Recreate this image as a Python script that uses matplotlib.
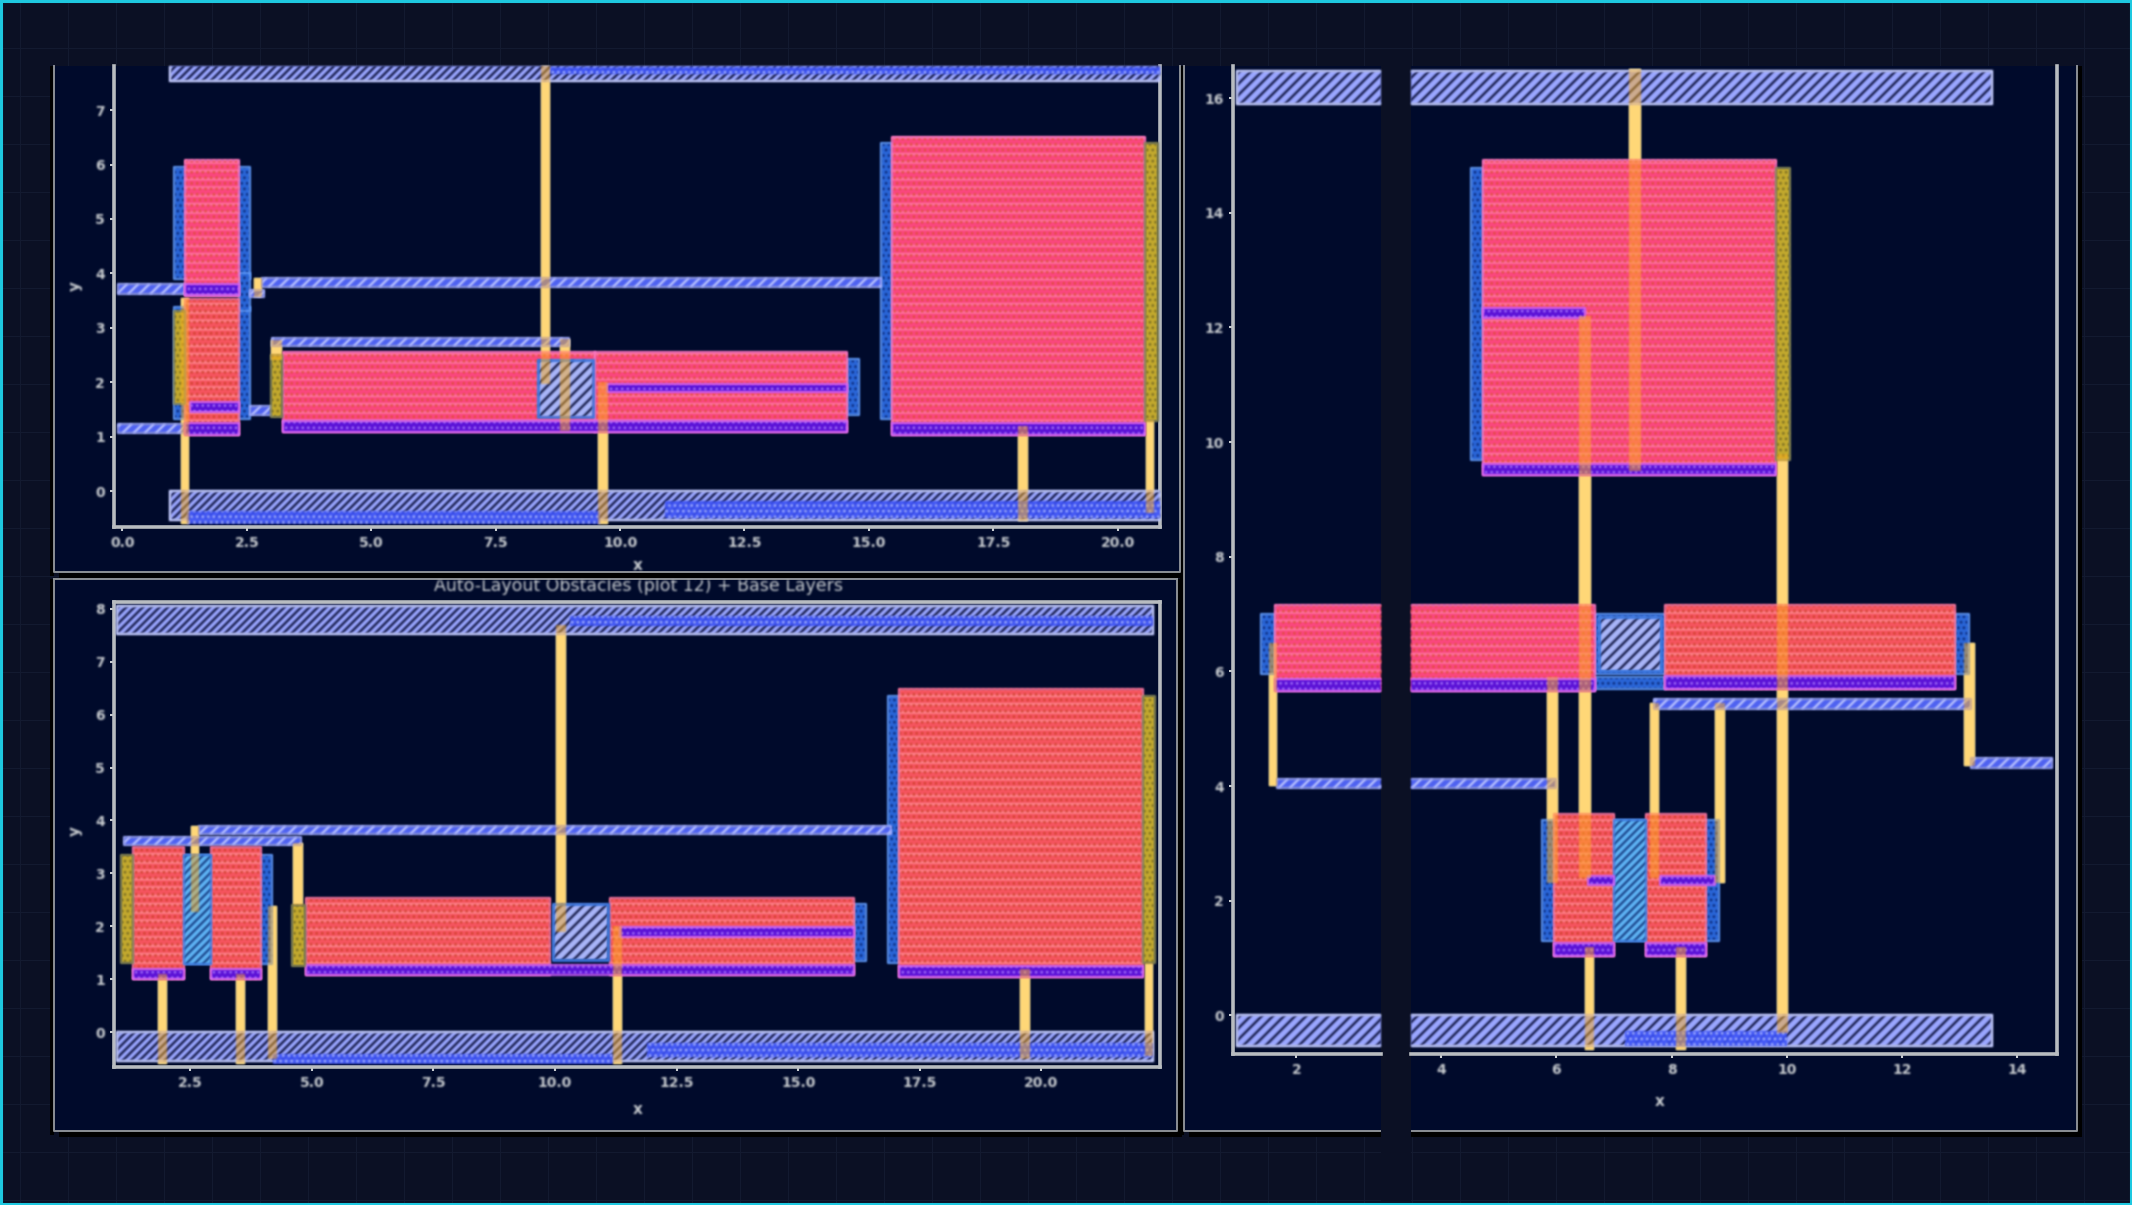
import numpy as np
import matplotlib
matplotlib.use("Agg")
import matplotlib.pyplot as plt
from matplotlib.patches import Rectangle

plt.rcParams["font.family"] = ["DejaVu Sans"]

W, H = 2132, 1205
TITLE = "Auto-Layout Obstacles (plot 12) + Base Layers"

# every box is (x0, x1, y0, y1) in data units
a_rails = [(0.96, 20.85, 7.53, 8.0), (0.96, 20.85, -0.53, 0.0)]
a_dense = [(8.6, 20.85, 7.66, 7.8), (1.3, 9.6, -0.6, -0.36), (10.9, 20.85, -0.5, -0.18)]
a_wires = [(-0.08, 1.26, 3.63, 3.8), (-0.08, 1.3, 1.07, 1.23), (2.57, 2.85, 3.57, 3.7),
           (2.8, 15.25, 3.75, 3.92), (3.0, 8.97, 2.66, 2.81), (2.57, 3.0, 1.4, 1.57)]
a_cells = [(1.04, 2.57, 3.9, 5.95), (1.04, 2.57, 1.32, 3.38), (2.34, 2.57, 3.3, 4.0),
           (14.56, 14.8, 1.4, 2.42), (15.25, 15.46, 1.33, 6.4)]
a_pink = [(1.26, 2.34, 3.59, 6.09), (3.22, 9.5, 1.08, 2.56), (9.5, 14.56, 1.08, 2.56),
          (15.46, 20.55, 1.03, 6.5)]
a_red = [(1.26, 2.34, 1.03, 3.53)]
a_gaps = [(8.35, 9.45, 1.36, 2.4)]
a_purple = [(1.26, 2.34, 3.6, 3.8), (1.26, 2.34, 1.03, 1.25), (1.35, 2.34, 1.45, 1.64),
            (3.22, 14.56, 1.08, 1.28), (9.74, 14.56, 1.82, 1.96), (15.46, 20.55, 1.03, 1.25)]
a_olive = [(1.04, 1.26, 1.6, 3.3), (2.99, 3.2, 1.36, 2.5), (20.55, 20.8, 1.28, 6.4)]
a_yellow = [(8.41, 8.6, 1.96, 8.0), (8.8, 9.0, 1.1, 2.8), (9.56, 9.76, -0.6, 2.0),
            (1.17, 1.33, -0.6, 3.55), (18.0, 18.2, -0.55, 1.2), (20.57, 20.73, -0.4, 1.3),
            (2.99, 3.2, 2.4, 2.78), (2.65, 2.8, 3.57, 3.92)]

b_rails = [(0.99, 22.3, 7.52, 8.05), (0.99, 22.3, -0.55, 0.0)]
b_dense = [(10.3, 22.3, 7.68, 7.86), (4.2, 11.2, -0.6, -0.42), (11.9, 22.3, -0.48, -0.2)]
b_wires = [(1.14, 4.78, 3.54, 3.68), (2.67, 16.9, 3.74, 3.89)]
b_cells = [(2.37, 4.18, 1.29, 3.35), (16.15, 16.4, 1.35, 2.42), (16.85, 17.07, 1.31, 6.35)]
b_pink = []
b_red = [(1.32, 2.37, 1.0, 3.5), (2.92, 3.96, 1.0, 3.5), (4.87, 9.9, 1.07, 2.54),
         (11.14, 16.15, 1.07, 2.54), (17.07, 22.1, 1.05, 6.48)]
b_gaps = [(9.96, 11.08, 1.36, 2.42)]
b_light = [(2.37, 2.92, 1.29, 3.35)]
b_purple = [(1.32, 2.37, 1.0, 1.2), (2.92, 3.96, 1.0, 1.2), (4.87, 16.15, 1.07, 1.26),
            (11.34, 16.15, 1.8, 1.98), (17.07, 22.1, 1.05, 1.25)]
b_olive = [(1.08, 1.32, 1.3, 3.35), (4.6, 4.85, 1.25, 2.4), (22.1, 22.33, 1.3, 6.35)]
b_yellow = [(2.51, 2.68, 2.27, 3.89), (1.84, 2.02, -0.6, 1.1), (3.44, 3.63, -0.6, 1.1),
            (4.09, 4.28, -0.5, 2.38), (4.62, 4.82, 2.4, 3.57), (10.01, 10.22, 1.9, 7.7),
            (11.19, 11.37, -0.6, 2.0), (19.57, 19.77, -0.5, 1.2), (22.14, 22.3, -0.45, 1.3)]

c_rails = [(0.97, 13.56, 15.9, 16.48), (0.97, 13.56, -0.54, 0.0)]
c_dense = [(7.2, 10.0, -0.54, -0.27)]
c_wires = [(1.67, 6.0, 3.97, 4.13), (7.7, 13.2, 5.35, 5.51), (13.2, 14.6, 4.32, 4.48)]
c_cells = [(1.38, 1.62, 5.95, 7.0), (12.92, 13.17, 5.95, 7.0), (6.67, 7.88, 5.7, 5.9),
           (5.75, 8.82, 1.29, 3.4), (4.52, 4.73, 9.69, 14.78), (6.67, 7.88, 5.95, 7.0)]
c_pink = [(4.73, 9.81, 9.43, 14.92), (1.62, 6.67, 5.65, 7.15)]
c_red = [(7.88, 12.92, 5.7, 7.15), (5.96, 7.01, 1.03, 3.52), (7.56, 8.6, 1.03, 3.52)]
c_gaps = [(6.74, 7.81, 6.0, 6.95)]
c_light = [(7.01, 7.56, 1.29, 3.4)]
c_purple = [(4.73, 9.81, 9.43, 9.62), (4.73, 6.5, 12.16, 12.33), (1.62, 6.67, 5.65, 5.87),
            (7.88, 12.92, 5.7, 5.92), (5.96, 7.01, 1.03, 1.26), (7.56, 8.6, 1.03, 1.26),
            (6.55, 7.01, 2.27, 2.43), (7.8, 8.75, 2.27, 2.43)]
c_olive = [(9.81, 10.05, 9.68, 14.78)]
c_yellow = [(6.39, 6.6, 2.4, 12.2), (7.26, 7.47, 9.5, 16.5), (9.83, 10.03, -0.3, 9.8),
            (1.52, 1.67, 4.0, 6.5), (5.84, 6.03, 2.3, 5.9), (6.5, 6.66, -0.6, 1.2),
            (8.08, 8.25, -0.6, 1.2), (7.63, 7.79, 2.4, 5.45), (8.76, 8.93, 2.3, 5.45),
            (13.07, 13.26, 4.35, 6.5)]

a_xticks = [0.0, 2.5, 5.0, 7.5, 10.0, 12.5, 15.0, 17.5, 20.0]
a_yticks = [0, 1, 2, 3, 4, 5, 6, 7]
b_xticks = [2.5, 5.0, 7.5, 10.0, 12.5, 15.0, 17.5, 20.0]
b_yticks = [0, 1, 2, 3, 4, 5, 6, 7, 8]
c_xticks = [2, 4, 6, 8, 10, 12, 14]
c_yticks = [0, 2, 4, 6, 8, 10, 12, 14, 16]

BG = "#0b1024"
PANEL = "#000a2b"
GRID = "#131a30"
SPINE = "#b8bcc0"
TEXT = "#c8ccd0"
NAVY = "#050a34"


def soften(img, dpi):
    # the reference is a blurred upscale, so every mark gets a small gaussian
    pad = 3
    out = np.pad(img, ((pad, pad), (pad, pad), (0, 0)))
    k = np.array([1, 4, 6, 4, 1]) / 16
    pm = out.copy()
    pm[..., :3] *= pm[..., 3:4]
    pm = np.apply_along_axis(lambda v: np.convolve(v, k, mode="same"), 0, pm)
    pm = np.apply_along_axis(lambda v: np.convolve(v, k, mode="same"), 1, pm)
    pm[..., :3] /= np.maximum(pm[..., 3:4], 1e-4)
    return np.clip(pm, 0, 1), -pad, -pad


def box(ax, r, fill, z, edge=None, lw=1.2, hatches=(), alpha=None):
    x0, x1, y0, y1 = r
    ax.add_patch(Rectangle((x0, y0), x1 - x0, y1 - y0, fc=fill, ec="none", lw=0, zorder=z, alpha=alpha))
    for h, col, hlw in hatches:
        p = Rectangle((x0, y0), x1 - x0, y1 - y0, fc="none", ec=col, lw=0, hatch=h, zorder=z)
        p.set_hatch_linewidth(hlw)
        ax.add_patch(p)
    if edge:
        ax.add_patch(Rectangle((x0, y0), x1 - x0, y1 - y0, fc="none", ec=edge, lw=lw, zorder=z))


def draw_layers(ax, rails, dense, wires, cells, light, pink, red, gaps, purple, olive, yellow, rail_hatch="////"):
    for r in yellow:
        box(ax, r, "#ffffd0", 1)
    for r in cells:
        box(ax, r, "#2a66d8", 2, "#6aa4ff", hatches=[("...", "#06206a", 1)])
    for r in rails:
        box(ax, r, "#9aa6ff", 3, "#c8d0ff", lw=1.6, hatches=[(rail_hatch, NAVY, 1.5)])
    for r in dense:
        box(ax, r, "#3a50f5", 3.2, hatches=[("...", "#b4c0ff", 1)], alpha=0.9)
    for r in wires:
        box(ax, r, "#4f62f0", 3.5, "#a8b2ff", hatches=[("///", "#c8d0ff", 1.5)])
    for r in pink:
        box(ax, r, "#fb4880", 4, "#ff80d0", hatches=[("--", "#ff7aa4", 1.6), ("...", "#d8502c", 1)])
    for r in red:
        box(ax, r, "#f65660", 4, "#ff80b0", hatches=[("--", "#ff8a92", 1.6), ("...", "#c83c22", 1)])
    for r in light:
        box(ax, r, "#5fb4f5", 4.2, "#3b78e0", hatches=[("////", "#0a2a70", 1.3)])
    for r in gaps:
        box(ax, r, "#a8b4f8", 4.5, "#3b78e0", lw=2, hatches=[("///", NAVY, 1.5)])
    for r in purple:
        box(ax, r, "#5a12d6", 5, "#e070ff", hatches=[("...", "#b080ff", 1)])
    for r in olive:
        box(ax, r, "#c4aa2e", 5, "#7a8060", hatches=[("...", "#6a6020", 1)])
    for r in yellow:
        box(ax, r, "#ffb020", 7, alpha=0.5)


def make_axes(fig, left, right, top, bottom, xlim, ylim, xticks, yticks, xfmt, spines):
    ax = fig.add_axes([left / W, 1 - bottom / H, (right - left) / W, (bottom - top) / H])
    ax.patch.set_alpha(0)
    ax.set_xlim(*xlim)
    ax.set_ylim(*ylim)
    ax.set_xticks(xticks, [xfmt.format(v) for v in xticks])
    ax.set_yticks(yticks, [str(v) for v in yticks])
    ax.tick_params(colors=TEXT, labelsize=10, length=3, width=1.5)
    for lab in ax.get_xticklabels() + ax.get_yticklabels():
        lab.set_fontweight("bold")
    for name, sp in ax.spines.items():
        sp.set_visible(name in spines)
        sp.set_color(SPINE)
        sp.set_linewidth(2.6)
    return ax


def frame(bg, x0, x1, y0, y1, top=True):
    bg.add_patch(Rectangle((x0 + 5, y0), x1 - x0, y1 - y0 + 6, fc="#000000", ec="none", zorder=2))
    bg.add_patch(Rectangle((x0 - 4, y0), 4, y1 - y0 + 4, fc="#000000", ec="none", zorder=2))
    bg.add_patch(Rectangle((x0, y0), x1 - x0, y1 - y0, fc=PANEL, ec="none", zorder=3))
    bg.plot([x0, x0, x1, x1], [y0, y1, y1, y0], color="#8c9096", lw=1.4, zorder=4)
    if top:
        bg.plot([x0, x1], [y0, y0], color="#8c9096", lw=1.4, zorder=4)


fig = plt.figure(figsize=(W / 100, H / 100), dpi=100, facecolor=BG)
bg = fig.add_axes([0, 0, 1, 1])
bg.set_xlim(0, W)
bg.set_ylim(H, 0)
bg.axis("off")

for gx in np.arange(20, W, 48):
    bg.axvline(gx, color=GRID, lw=0.8, zorder=1)
for gy in np.arange(0, H, 48):
    bg.axhline(gy, color=GRID, lw=0.8, zorder=1)

frame(bg, 54, 1180, 66, 572, top=False)
frame(bg, 54, 1177, 579, 1131)
frame(bg, 1184, 2077, 66, 1131, top=False)
bg.add_patch(Rectangle((1381, 60), 30, H - 60, fc=BG, ec="none", zorder=5))

# border
bg.add_patch(Rectangle((1, 1), W - 2, H - 2, fc="none", ec="#1ec8e0", lw=2.2, zorder=6))

ax_a = make_axes(fig, 114, 1160, 66, 527, (-0.17, 20.85), (-0.66, 7.81),
                 a_xticks, a_yticks, "{:.1f}", ("left", "bottom", "right"))
draw_layers(ax_a, a_rails, a_dense, a_wires, a_cells, [], a_pink, a_red, a_gaps, a_purple, a_olive, a_yellow)

ax_b = make_axes(fig, 114, 1160, 602, 1067, (0.93, 22.44), (-0.66, 8.13),
                 b_xticks, b_yticks, "{:.1f}", ("left", "bottom", "right", "top"))
draw_layers(ax_b, b_rails, b_dense, b_wires, b_cells, b_light, b_pink, b_red, b_gaps, b_purple, b_olive, b_yellow)

ax_c1 = make_axes(fig, 1233, 1381, 66, 1054, (0.898, 3.467), (-0.675, 16.56),
                  [v for v in c_xticks if v < 3.4], c_yticks, "{:d}", ("left", "bottom"))
draw_layers(ax_c1, c_rails, c_dense, c_wires, c_cells, c_light, c_pink, c_red, c_gaps, c_purple, c_olive, c_yellow, "///")

ax_c2 = make_axes(fig, 1411, 2057, 66, 1054, (3.479, 14.69), (-0.675, 16.56),
                  [v for v in c_xticks if v > 3.4], [], "{:d}", ("right", "bottom"))
draw_layers(ax_c2, c_rails, c_dense, c_wires, c_cells, c_light, c_pink, c_red, c_gaps, c_purple, c_olive, c_yellow, "///")

labels = [bg.text(638, 565, "x", color=TEXT, fontsize=11, fontweight="bold", ha="center", va="center", zorder=8),
          bg.text(638, 1110, "x", color=TEXT, fontsize=11, fontweight="bold", ha="center", va="center", zorder=8),
          bg.text(1660, 1101, "x", color=TEXT, fontsize=11, fontweight="bold", ha="center", va="center", zorder=8),
          bg.text(75, 286, "y", color=TEXT, fontsize=11, fontweight="bold", rotation=90, ha="center", va="center", zorder=8),
          bg.text(75, 831, "y", color=TEXT, fontsize=11, fontweight="bold", rotation=90, ha="center", va="center", zorder=8)]

title = bg.text(638, 586, TITLE, color=TEXT, fontsize=12.5, ha="center", va="center", zorder=8)
title.set_clip_path(Rectangle((54, 580), 1126, 40, transform=bg.transData))
title.set_clip_on(True)
labels.append(title)

for ax in (ax_a, ax_b, ax_c1, ax_c2):
    for p in ax.patches:
        p.set_agg_filter(soften)
    for lab in ax.get_xticklabels() + ax.get_yticklabels():
        lab.set_agg_filter(soften)
for lab in labels:
    lab.set_agg_filter(soften)

fig.savefig("out.png", dpi=100, facecolor=BG)
